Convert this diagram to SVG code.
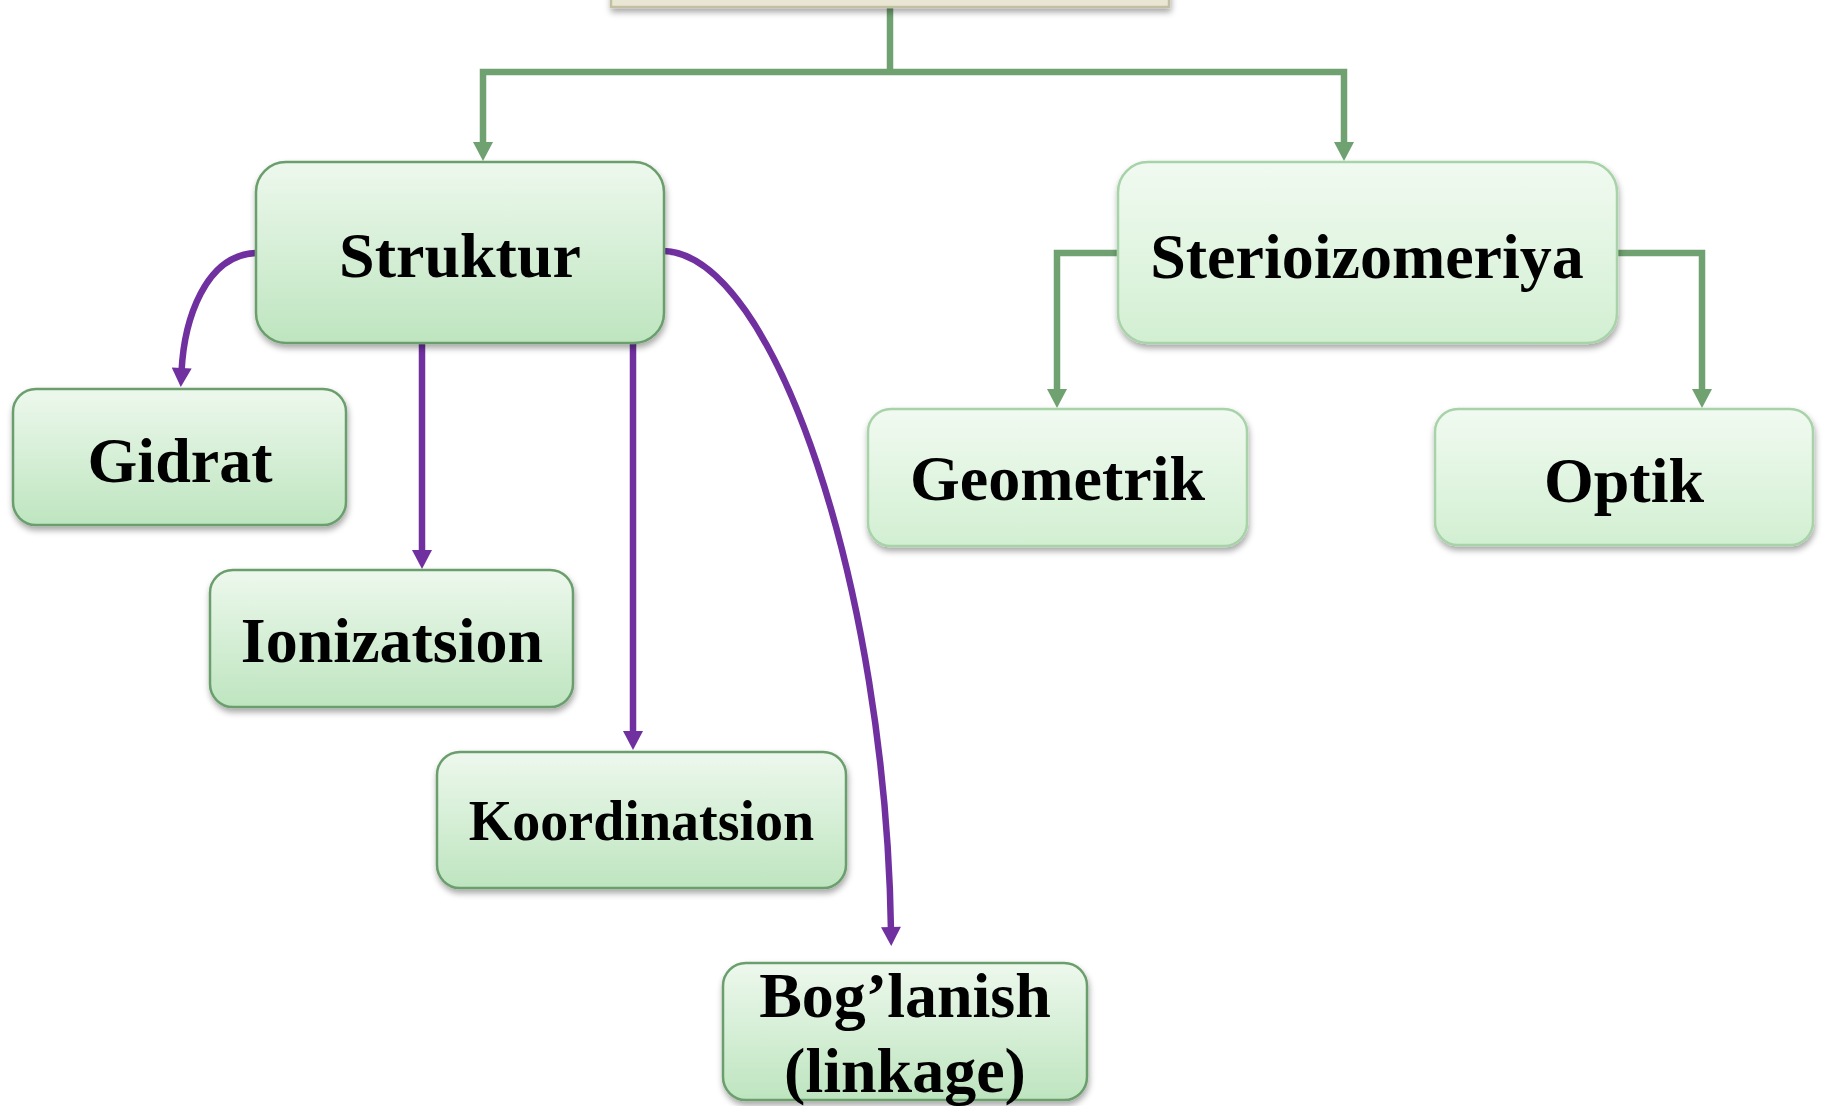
<svg xmlns="http://www.w3.org/2000/svg" width="1824" height="1106" viewBox="0 0 1824 1106">
<defs>
<linearGradient id="gA" x1="0" y1="0" x2="0" y2="1">
<stop offset="0" stop-color="#edf8ed"/>
<stop offset="1" stop-color="#bee5bf"/>
</linearGradient>
<linearGradient id="gB" x1="0" y1="0" x2="0" y2="1">
<stop offset="0" stop-color="#f1faf1"/>
<stop offset="1" stop-color="#d2efd2"/>
</linearGradient>
<filter id="sh" x="-10%" y="-10%" width="120%" height="130%">
<feDropShadow dx="1" dy="4" stdDeviation="3" flood-color="#000" flood-opacity="0.35"/>
</filter>
<marker id="aG" markerUnits="userSpaceOnUse" markerWidth="20" markerHeight="20" viewBox="0 0 19 20" refX="4" refY="10" orient="auto">
<path d="M0,0 L19,10 L0,20 Z" fill="#6fa171"/>
</marker>
<marker id="aP" markerUnits="userSpaceOnUse" markerWidth="20" markerHeight="20" viewBox="0 0 19 20" refX="4" refY="10" orient="auto">
<path d="M0,0 L19,10 L0,20 Z" fill="#7030a0"/>
</marker>
</defs>
<style>
.bA{fill:url(#gA);stroke:#6b9e6d;stroke-width:2.5;filter:url(#sh)}
.bB{fill:url(#gB);stroke:#a8d3a9;stroke-width:2.5;filter:url(#sh)}
.t{font-family:"Liberation Serif","Times New Roman",serif;font-weight:bold;font-size:64px;fill:#000;text-anchor:middle}
.cg{fill:none;stroke:#6fa171;stroke-width:6.5;stroke-linejoin:miter}
.cp{fill:none;stroke:#7030a0;stroke-width:6.5}
</style>
<rect width="1824" height="1106" fill="#ffffff"/>
<g id="connectors">
<path class="cg" d="M890,7 V72"/>
<path class="cg" d="M890,72 H483 V146" marker-end="url(#aG)"/>
<path class="cg" d="M890,72 H1344 V146" marker-end="url(#aG)"/>
<path class="cg" d="M1118,253 H1057 V393" marker-end="url(#aG)"/>
<path class="cg" d="M1617,253 H1702 V393" marker-end="url(#aG)"/>
<path class="cp" d="M256,253 C205,255 184,320 181.5,372" marker-end="url(#aP)"/>
<path class="cp" d="M422,343 V554" marker-end="url(#aP)"/>
<path class="cp" d="M633,343 V735" marker-end="url(#aP)"/>
<path class="cp" d="M664,251 C775,255 886,590 891,931" marker-end="url(#aP)"/>
</g>
<g id="top">
<rect x="611" y="-70" width="558" height="77" fill="#e9e6d3" stroke="#c3bfa3" stroke-width="2.5" filter="url(#sh)"/>
</g>
<g id="struktur">
<rect class="bA" x="256" y="162" width="408" height="181" rx="30"/>
<text class="t" x="460" y="277">Struktur</text>
</g>
<g id="gidrat">
<rect class="bA" x="13" y="389" width="333" height="136" rx="23"/>
<text class="t" x="180" y="482">Gidrat</text>
</g>
<g id="ionizatsion">
<rect class="bA" x="210" y="570" width="363" height="137" rx="23"/>
<text class="t" x="392" y="662">Ionizatsion</text>
</g>
<g id="koordinatsion">
<rect class="bA" x="437" y="752" width="409" height="136" rx="23"/>
<text class="t" x="641.5" y="840" style="font-size:56px">Koordinatsion</text>
</g>
<g id="boglanish">
<rect class="bA" x="723" y="963" width="364" height="137" rx="23"/>
<text class="t" x="905" y="1017">Bog’lanish</text>
<text class="t" x="905" y="1092">(linkage)</text>
</g>
<g id="sterioizomeriya">
<rect class="bB" x="1118" y="162" width="499" height="181" rx="30"/>
<text class="t" x="1367" y="278">Sterioizomeriya</text>
</g>
<g id="geometrik">
<rect class="bB" x="868" y="409" width="379" height="137" rx="23"/>
<text class="t" x="1057.5" y="500">Geometrik</text>
</g>
<g id="optik">
<rect class="bB" x="1435" y="409" width="378" height="136" rx="23"/>
<text class="t" x="1624" y="502">Optik</text>
</g>
</svg>
